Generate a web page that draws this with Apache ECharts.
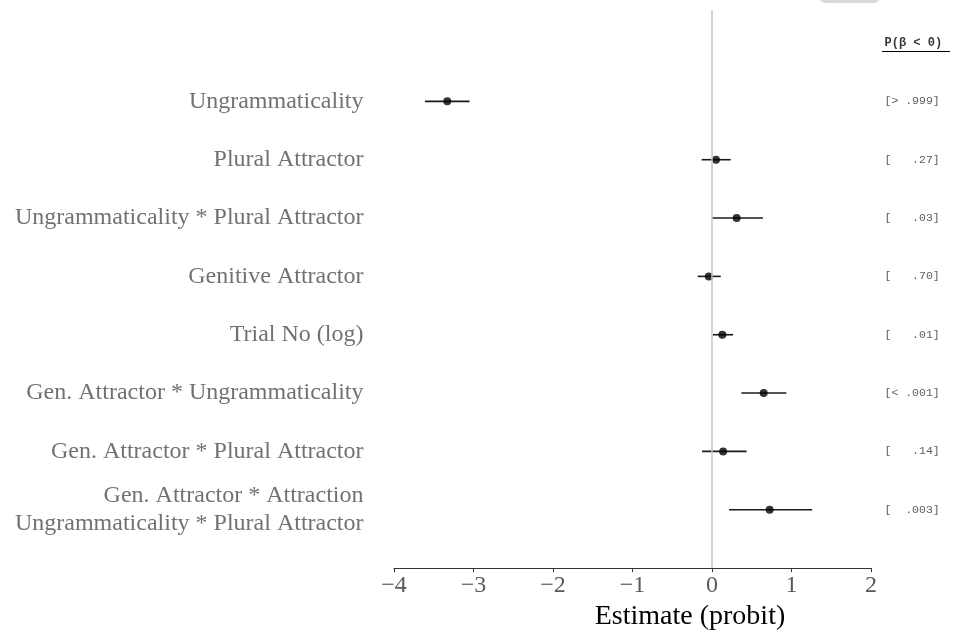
<!DOCTYPE html>
<html>
<head>
<meta charset="utf-8">
<script src="https://cdn.jsdelivr.net/npm/echarts@6/dist/echarts.min.js"></script>
<style>
  html, body { margin: 0; padding: 0; background: #ffffff; }
  #chart { width: 956px; height: 636px; }
</style>
</head>
<body>
<div id="chart"></div>
<script>
// Model terms, top to bottom
const terms = [
  'Ungrammaticality',
  'Plural Attractor',
  'Ungrammaticality * Plural Attractor',
  'Genitive Attractor',
  'Trial No (log)',
  'Gen. Attractor * Ungrammaticality',
  'Gen. Attractor * Plural Attractor',
  'Gen. Attractor * Attraction\nUngrammaticality * Plural Attractor'
];
// Posterior means and 95% interval bounds (probit scale)
const estimates = [-3.33, 0.05, 0.31, -0.04, 0.13, 0.65, 0.14, 0.725];
const lower     = [-3.61, -0.13, 0.00, -0.18, 0.01, 0.37, -0.125, 0.215];
const upper     = [-3.05, 0.235, 0.64, 0.11, 0.265, 0.935, 0.435, 1.26];
// Posterior probability that the coefficient is negative
const pHeader = 'P(\u03b2 < 0)';
const pNeg = ['[> .999]', '[   .27]', '[   .03]', '[   .70]', '[   .01]', '[< .001]', '[   .14]', '[  .003]'];
// x-axis ticks
const xTicks = [-4, -3, -2, -1, 0, 1, 2];

const rows = terms.map((_, i) => i + 1);
const xMin = xTicks[0], xMax = xTicks[xTicks.length - 1];

const serif = '"Liberation Serif", "DejaVu Serif", serif';
const mono = '"Liberation Mono", "DejaVu Sans Mono", monospace';

const chart = echarts.init(document.getElementById('chart'), null, { renderer: 'canvas' });

chart.setOption({
  animation: false,
  backgroundColor: '#ffffff',
  grid: { left: 394, right: 85, top: 10, bottom: 58, containLabel: false },
  xAxis: {
    type: 'value',
    min: xMin, max: xMax, interval: 1,
    splitLine: { show: false },
    axisLine: { show: true, onZero: false, lineStyle: { color: '#333333', width: 1 } },
    axisTick: { show: true, length: 4, lineStyle: { color: '#333333' } },
    axisLabel: {
      margin: 6,
      fontFamily: serif, fontSize: 24, color: '#595959',
      formatter: v => String(v).replace('-', '\u2212')
    },
    name: 'Estimate (probit)',
    nameLocation: 'middle',
    nameGap: 28,
    nameTextStyle: { fontFamily: serif, fontSize: 28, color: '#000000', padding: [0, 0, 0, 115] }
  },
  yAxis: {
    type: 'value', inverse: true,
    min: -0.566, max: 9,
    show: false
  },
  graphic: [
    { type: 'rect', shape: { x: 820, y: -12, width: 59, height: 15, r: 5 }, style: { fill: '#d9d9d9' }, silent: true },
    // underline beneath the probability column header
    { type: 'line', shape: { x1: 882, y1: 51.5, x2: 950, y2: 51.5 }, style: { stroke: '#000000', lineWidth: 1 } }
  ],
  series: [
    {
      // zero reference line
      type: 'line', data: [], silent: true,
      markLine: {
        symbol: 'none', silent: true, label: { show: false },
        lineStyle: { color: '#c4c4c4', width: 1.5, type: 'solid' },
        data: [{ xAxis: 0 }]
      }
    },
    {
      // interval whiskers
      type: 'custom',
      data: rows.map((r, i) => [lower[i], upper[i], r]),
      renderItem: (params, api) => {
        const a = api.coord([api.value(0), api.value(2)]);
        const b = api.coord([api.value(1), api.value(2)]);
        return {
          type: 'line',
          shape: { x1: a[0], y1: a[1], x2: b[0], y2: b[1] },
          style: { stroke: '#1a1a1a', lineWidth: 1.6 }
        };
      },
      z: 3
    },
    {
      // point estimates
      type: 'scatter',
      data: rows.map((r, i) => [estimates[i], r]),
      symbol: 'circle', symbolSize: 8,
      itemStyle: { color: '#000000' },
      z: 4
    },
    {
      // term names to the left of the plot
      type: 'scatter',
      data: rows.map((r, i) => ({ value: [xMin, r], name: terms[i] })),
      symbolSize: 1,
      itemStyle: { color: 'rgba(0,0,0,0)' },
      silent: true,
      label: {
        show: true, position: 'left', distance: 30,
        formatter: p => p.name,
        fontFamily: serif, fontSize: 24, color: '#4d4d4d',
        align: 'right', lineHeight: 28
      }
    },
    {
      // posterior probabilities to the right, with the column header on row 0
      type: 'scatter',
      data: [{ value: [xMax, 0], name: pHeader, header: true }]
        .concat(rows.map((r, i) => ({ value: [xMax, r], name: pNeg[i] }))),
      symbolSize: 1,
      itemStyle: { color: 'rgba(0,0,0,0)' },
      silent: true,
      label: {
        show: true, position: 'right', distance: 13,
        formatter: p => p.data.header ? '{h|' + p.name + '}' : p.name,
        fontFamily: mono, fontSize: 11.5, color: '#333333',
        rich: { h: { fontFamily: mono, fontSize: 12, fontWeight: 'bold', color: '#000000' } }
      }
    }
  ]
});
</script>
</body>
</html>
